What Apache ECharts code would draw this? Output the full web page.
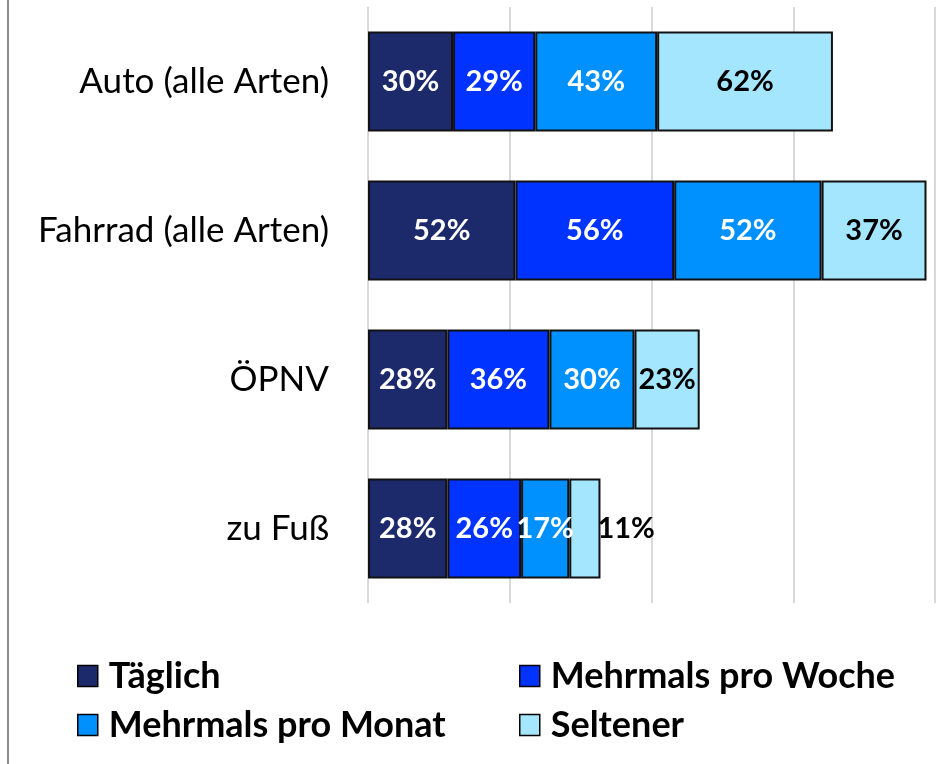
<!DOCTYPE html>
<html>
<head>
<meta charset="utf-8">
<script src="https://cdn.jsdelivr.net/npm/echarts@6/dist/echarts.min.js"></script>
<style>
html, body { margin: 0; padding: 0; background: #fff; }
#chart { width: 948px; height: 764px; }
#frame { position: absolute; left: 7px; top: 0; width: 0; height: 764px; border-left: 2px solid #8c8c8c; }
</style>
</head>
<body>
<div id="chart"></div>
<div id="frame"></div>
<script>
const categories = ['Auto (alle Arten)', 'Fahrrad (alle Arten)', 'ÖPNV', 'zu Fuß']
const seriesNames = ['Täglich', 'Mehrmals pro Woche', 'Mehrmals pro Monat', 'Seltener']
const taeglich = [30, 52, 28, 28]
const proWoche = [29, 56, 36, 26]
const proMonat = [43, 52, 30, 17]
const seltener = [62, 37, 23, 11]
const colors = ['#1c2a6c', '#0033ff', '#0091ff', '#a5e6ff']

const font = 'Lato, "Liberation Sans", sans-serif'
const myChart = echarts.init(document.getElementById('chart'))

function makeSeries(name, values, idx) {
    const dark = idx < 3
    return {
        name: name,
        type: 'bar',
        stack: 'total',
        barWidth: 100,
        data: values.map((v, i) => {
            // last small segment: Excel pushed the label out to the right
            if (idx === 3 && i === 3) {
                return { value: v, label: { position: 'right', distance: -3 } }
            }
            return v
        }),
        itemStyle: {
            color: colors[idx],
            borderColor: '#111',
            borderWidth: 2
        },
        label: {
            show: true,
            position: 'inside',
            formatter: '{c}%',
            color: dark ? '#fff' : '#000',
            fontFamily: font,
            fontWeight: 'bold',
            fontSize: 29
        },
        emphasis: { disabled: true }
    }
}

const legendStyle = {
    orient: 'vertical',
    icon: 'rect',
    itemWidth: 20,
    itemHeight: 21,
    itemGap: 13,
    itemStyle: { borderColor: '#000', borderWidth: 1.5 },
    textStyle: { fontFamily: font, fontWeight: 'bold', fontSize: 36, color: '#000', padding: [0, 0, 0, 6] }
}

const option = {
    animation: false,
    grid: { left: 368, right: 13, top: 7, bottom: 161 },
    legend: [
        Object.assign({ left: 72, top: 653, data: [seriesNames[0], seriesNames[2]] }, legendStyle),
        Object.assign({ left: 514, top: 653, data: [seriesNames[1], seriesNames[3]] }, legendStyle)
    ],
    xAxis: {
        type: 'value',
        min: 0,
        max: 200,
        interval: 50,
        axisLabel: { show: false },
        axisLine: { show: false },
        axisTick: { show: false },
        splitLine: { lineStyle: { color: '#d9d9d9', width: 2 } }
    },
    yAxis: {
        type: 'category',
        inverse: true,
        data: categories,
        axisLine: { show: false },
        axisTick: { show: false },
        axisLabel: { fontFamily: font, fontSize: 35, color: '#000', margin: 39 }
    },
    series: [
        makeSeries(seriesNames[0], taeglich, 0),
        makeSeries(seriesNames[1], proWoche, 1),
        makeSeries(seriesNames[2], proMonat, 2),
        makeSeries(seriesNames[3], seltener, 3)
    ]
}
myChart.setOption(option)
</script>
</body>
</html>
